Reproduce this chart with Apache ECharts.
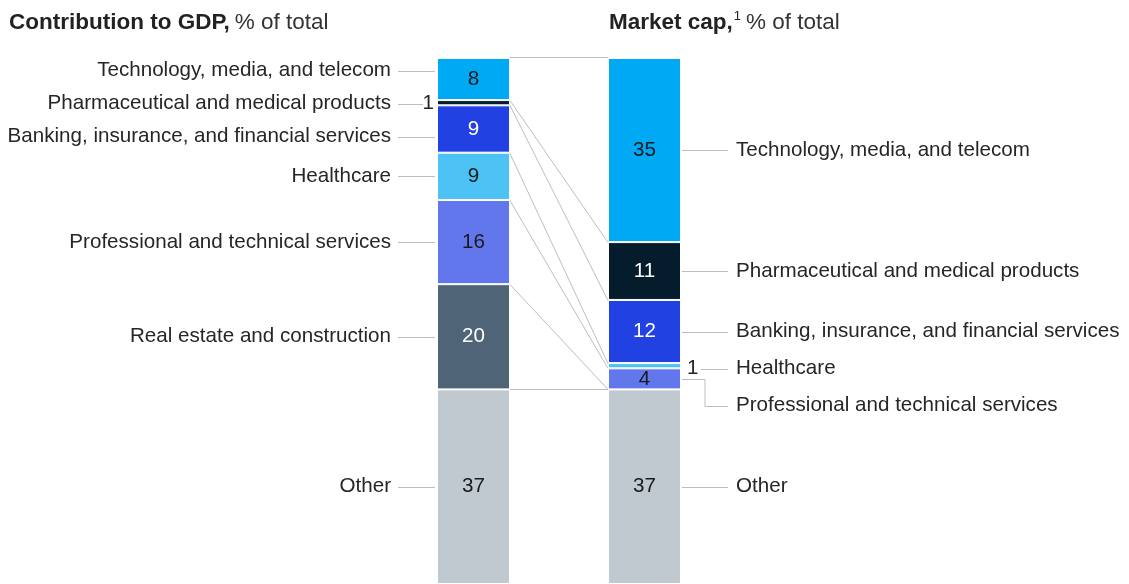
<!DOCTYPE html>
<html>
<head>
<meta charset="utf-8">
<script src="https://cdn.jsdelivr.net/npm/echarts@6/dist/echarts.min.js"></script>
<style>
	html, body { margin: 0; background: #fff; }
	#chart { width: 1129px; height: 584px; }
</style>
</head>
<body>
<div id="chart"></div>
<script>
const categories = [
	'Technology, media, and telecom',
	'Pharmaceutical and medical products',
	'Banking, insurance, and financial services',
	'Healthcare',
	'Professional and technical services',
	'Real estate and construction',
	'Other'
]
const bars = ['Contribution to GDP', 'Market cap']
const gdpShare = [8, 1, 9, 9, 16, 20, 37]
const marketCapShare = [35, 11, 12, 1, 4, null, 37]

const colors = ['#00A9F4', '#051C2C', '#2241E3', '#4DC2F5', '#6277EB', '#4F6577', '#C1C9D0']
const valueColors = ['#1a1a1a', '#fff', '#fff', '#1a1a1a', '#1a1a1a', '#fff', '#1a1a1a']

const FONT = '"Liberation Sans", Arial, sans-serif'
const TEXT = '#262626'
const LINE = '#bdbdbd'
const BAR_W = 73

// labels closer than this get spread apart
function spread(items, gap) {
	for (let n = 0; n < 200; n++) {
		for (let k = 1; k < items.length; k++) {
			const d = items[k].y - items[k - 1].y
			if (d < gap) {
				const s = (gap - d) / 2
				items[k - 1].y -= s
				items[k].y += s
			}
		}
	}
}
function pushDown(items, gap) {
	for (let k = 1; k < items.length; k++) {
		if (items[k].y < items[k - 1].y + gap) items[k].y = items[k - 1].y + gap
	}
}

function segments(values, barIndex, api) {
	let cum = 0
	const out = []
	values.forEach((v, i) => {
		if (v == null || v === 0) return
		const top = api.coord([barIndex, cum])[1]
		const bottom = api.coord([barIndex, cum + v])[1]
		const mid = api.coord([barIndex, cum + v / 2])[1]
		out.push({ i, v, top, bottom, mid, y: mid })
		cum += v
	})
	return out
}

function renderOverlay(params, api) {
	const children = []
	const lx = api.coord([0, 0])[0]
	const rx = api.coord([1, 0])[0]
	const leftEdge = lx + BAR_W / 2
	const rightEdge = rx - BAR_W / 2
	const line = (x1, y1, x2, y2) => children.push({
		type: 'line',
		shape: { x1, y1: Math.round(y1) + 0.5, x2, y2: Math.round(y2) + 0.5 },
		style: { stroke: LINE, lineWidth: 1 }
	})
	const text = (t, x, y, align) => children.push({
		type: 'text',
		style: { text: t, x, y, align, verticalAlign: 'middle', fontSize: 20.6, fontFamily: FONT, fill: TEXT }
	})

	// connectors between the two bars
	let cl = 0
	let cr = 0
	line(leftEdge, api.coord([0, 0])[1] - 1, rightEdge, api.coord([1, 0])[1] - 1)
	for (let i = 0; i < categories.length - 1; i++) {
		cl += gdpShare[i] || 0
		cr += marketCapShare[i] || 0
		line(leftEdge, api.coord([0, cl])[1], rightEdge, api.coord([1, cr])[1])
	}

	// left labels
	const left = segments(gdpShare, 0, api)
	spread(left, 33)
	const lb = lx - BAR_W / 2
	left.forEach(s => {
		text(categories[s.i], lb - 46, s.y, 'right')
		if (s.v < 2) {
			text(String(s.v), lb - 3, s.y, 'right')
			line(lb - 39, s.y, lb - 14, s.y)
		} else {
			line(lb - 39, s.y, lb - 2, s.y)
		}
	})

	// right labels
	const right = segments(marketCapShare, 1, api)
	pushDown(right, 37)
	const rb = rx + BAR_W / 2
	right.forEach(s => {
		text(categories[s.i], rb + 55, s.y, 'left')
		if (s.v < 2) {
			text(String(s.v), rb + 6, s.y, 'left')
			line(rb + 20, s.y, rb + 47, s.y)
		} else if (s.y > s.bottom || s.y < s.top) {
			const ym = Math.round(s.mid) + 0.5
			const yl = Math.round(s.y) + 0.5
			children.push({
				type: 'polyline',
				shape: { points: [[rb + 1, ym], [rb + 24, ym], [rb + 24, yl], [rb + 47, yl]] },
				style: { stroke: LINE, lineWidth: 1, fill: null }
			})
		} else {
			line(rb + 1, s.y, rb + 47, s.y)
		}
	})
	return { type: 'group', children }
}

const chart = echarts.init(document.getElementById('chart'))

const barSeries = categories.map((name, i) => ({
	name,
	type: 'bar',
	stack: 'total',
	barWidth: BAR_W,
	itemStyle: { color: colors[i], borderColor: '#fff', borderWidth: 1 },
	label: {
		show: true,
		position: 'inside',
		fontSize: 20.6,
		fontFamily: FONT,
		color: valueColors[i]
	},
	data: [gdpShare[i], marketCapShare[i]].map(v => (v != null && v < 2)
		? { value: v, label: { show: false } }
		: (v == null ? '-' : v))
}))

chart.setOption({
	animation: false,
	title: [{
		left: 4,
		top: 5,
		text: '{b|Contribution to GDP,} {r|% of total}',
		textStyle: {
			rich: {
				b: { fontSize: 22.5, fontWeight: 'bold', color: '#222', fontFamily: FONT, lineHeight: 26 },
				r: { fontSize: 22.5, fontWeight: 'normal', color: '#333', fontFamily: FONT, lineHeight: 26 }
			}
		}
	}, {
		left: 604,
		top: 5,
		text: '{b|Market cap,}{s|1} {r|% of total}',
		textStyle: {
			rich: {
				b: { fontSize: 22.5, fontWeight: 'bold', color: '#222', fontFamily: FONT, lineHeight: 26 },
				s: { fontSize: 13, fontWeight: 'normal', color: '#222', fontFamily: FONT, lineHeight: 26, verticalAlign: 'top', padding: [0, 0, 4, 1] },
				r: { fontSize: 22.5, fontWeight: 'normal', color: '#333', fontFamily: FONT, lineHeight: 26 }
			}
		}
	}],
	grid: { left: 388, width: 342, top: 58, height: 526 },
	xAxis: { type: 'category', data: bars, show: false },
	yAxis: { type: 'value', inverse: true, min: 0, max: 100, show: false },
	series: [
		...barSeries,
		{
			type: 'custom',
			silent: true,
			clip: false,
			z: 5,
			renderItem: renderOverlay,
			data: [[0, 0]]
		}
	]
})
</script>
</body>
</html>
